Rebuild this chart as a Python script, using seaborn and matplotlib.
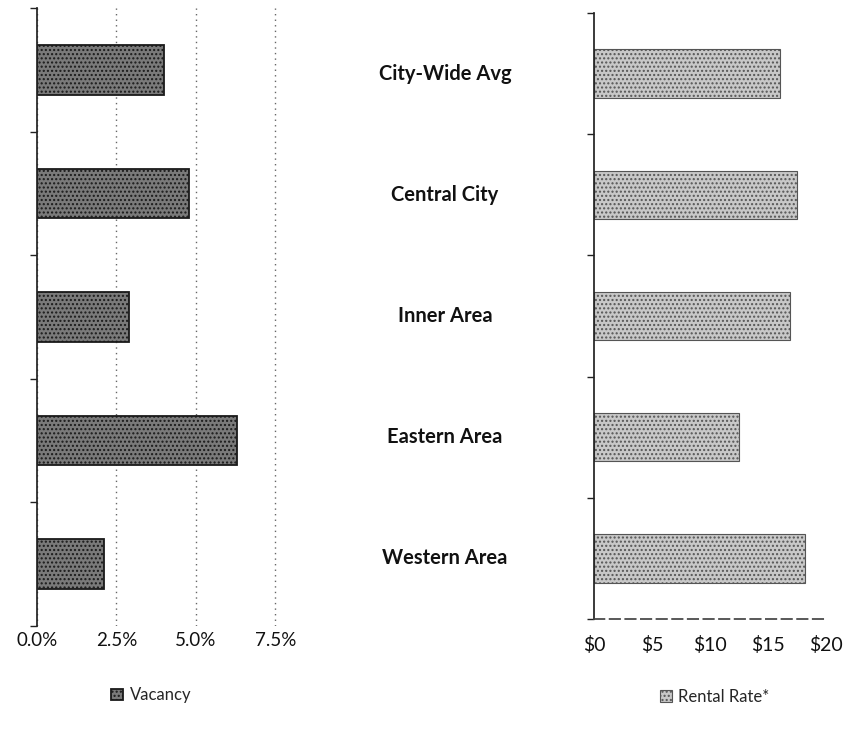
import matplotlib
matplotlib.use("Agg")
import matplotlib.pyplot as plt
import matplotlib.transforms as mtransforms
import seaborn as sns
import pandas as pd

categories = ["City-Wide Avg", "Central City", "Inner Area", "Eastern Area", "Western Area"]
vacancy = [4.0, 4.8, 2.9, 6.3, 2.1]          # percent
rental_rate = [16.0, 17.5, 16.9, 12.5, 18.2]  # dollars
vac_ticks = [0.0, 2.5, 5.0, 7.5]
vac_labels = ["0.0%", "2.5%", "5.0%", "7.5%"]
rent_ticks = [0, 5, 10, 15, 20]
rent_labels = ["$0", "$5", "$10", "$15", "$20"]

sns.set_theme(style="white")
plt.rcParams["font.family"] = ["Lato", "DejaVu Sans"]
plt.rcParams["hatch.color"] = "#555555"

df_v = pd.DataFrame({"cat": categories, "val": vacancy})
df_r = pd.DataFrame({"cat": categories, "val": rental_rate})

W, H = 843, 729
fig = plt.figure(figsize=(W / 100, H / 100), dpi=100)

def px_axes(x0, y0, x1, y1):
    return fig.add_axes([x0 / W, 1 - y1 / H, (x1 - x0) / W, (y1 - y0) / H])

ax1 = px_axes(37, 8, 280, 626)
ax2 = px_axes(594, 13, 826, 619)

sns.barplot(data=df_v, y="cat", x="val", orient="h", ax=ax1, color="#7a7a7a",
            edgecolor="#1a1a1a", linewidth=1.3, width=0.4, label="Vacancy")
sns.barplot(data=df_r, y="cat", x="val", orient="h", ax=ax2, color="#c8c8c8",
            edgecolor="#555555", linewidth=0.8, width=0.4, label="Rental Rate*")

for b in ax1.patches:
    b.set_hatch("....")
for b in ax2.patches:
    b.set_hatch("....")

# left axes
ax1.set_xlim(0, 7.65)
ax1.set_xticks(vac_ticks)
ax1.set_xticklabels(vac_labels, fontsize=13.5)
ax1.set_ylim(4.5, -0.5)
ax1.set_yticks([i - 0.5 for i in range(len(categories) + 1)])
ax1.set_yticklabels([])
ax1.tick_params(axis="y", length=5, width=1, color="#222222", direction="out", left=True)
ax1.tick_params(axis="x", length=0, pad=4, colors="#111111")
ax1.xaxis.grid(True, linestyle=(0, (1, 3)), color="#666666", linewidth=1)
ax1.set_axisbelow(True)
for s in ["top", "right", "bottom"]:
    ax1.spines[s].set_visible(False)
ax1.spines["left"].set_color("#222222")
ax1.set_xlabel("")
ax1.set_ylabel("")

# right axes
ax2.set_xlim(0, 20)
ax2.set_xticks(rent_ticks)
ax2.set_xticklabels(rent_labels, fontsize=14)
ax2.set_ylim(4.5, -0.5)
ax2.set_yticks([i - 0.5 for i in range(len(categories) + 1)])
ax2.set_yticklabels([])
ax2.tick_params(axis="y", length=5, width=1, color="#222222", direction="out", left=True)
ax2.tick_params(axis="x", length=0, pad=12, colors="#111111")
ax2.grid(False)
for s in ["top", "right"]:
    ax2.spines[s].set_visible(False)
ax2.spines["left"].set_color("#222222")
ax2.spines["bottom"].set_color("#444444")
ax2.spines["bottom"].set_linestyle((0, (6, 3)))
ax2.set_xlabel("")
ax2.set_ylabel("")

# category labels in the middle
trans = mtransforms.blended_transform_factory(ax2.transAxes, ax2.transData)
for i, c in enumerate(categories):
    ax2.text(-0.642, i, c, transform=trans, ha="center", va="center",
             fontsize=14.5, fontweight="bold", color="#111111")

# legends
leg1 = ax1.legend(loc="upper center", bbox_to_anchor=(0.47, -0.075), frameon=False,
                  fontsize=12, handlelength=0.7, handleheight=0.7, handletextpad=0.4)
leg2 = ax2.legend(loc="upper center", bbox_to_anchor=(0.52, -0.09), frameon=False,
                  fontsize=12, handlelength=0.7, handleheight=0.7, handletextpad=0.4)

fig.savefig("out.png", dpi=100)
